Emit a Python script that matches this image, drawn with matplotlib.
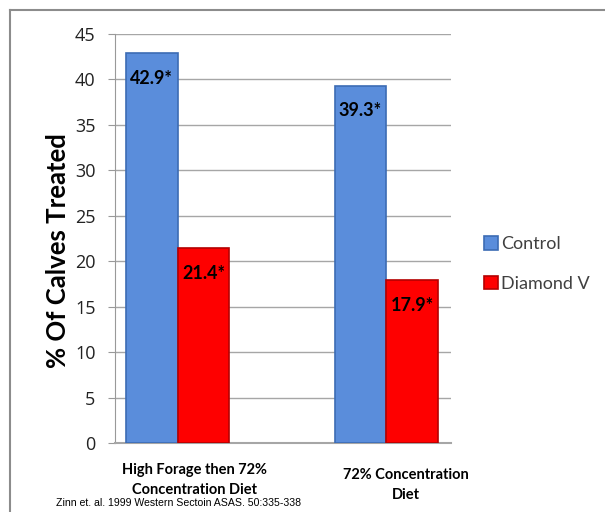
import matplotlib.pyplot as plt
import numpy as np
from matplotlib.lines import Line2D

categories = ["High Forage then 72%\nConcentration Diet", "72% Concentration\nDiet"]
control = [42.9, 39.3]
diamond = [21.4, 17.9]
series_names = ["Control", "Diamond V"]
yticks = [0, 5, 10, 15, 20, 25, 30, 35, 40, 45]
citation = "Zinn et. al. 1999 Western Sectoin ASAS. 50:335-338"

blue = "#5a8ddb"
blue_edge = "#3c6cb4"
red = "#fe0000"
red_edge = "#b40000"

fig = plt.figure(figsize=(6.05, 5.12), dpi=100)
ax = fig.add_axes([115 / 605, 1 - 443 / 512, 336 / 605, 409 / 512])

x = np.arange(len(categories))
w = 0.247
b1 = ax.bar(x - w / 2, control, w, color=blue, edgecolor=blue_edge, linewidth=1.2,
            label=series_names[0], zorder=3)
b2 = ax.bar(x + w / 2, diamond, w, color=red, edgecolor=red_edge, linewidth=1.2,
            label=series_names[1], zorder=3)

# value labels sit just inside the top of each bar
for bars, vals in [(b1, control), (b2, diamond)]:
    for rect, v in zip(bars, vals):
        ax.annotate(f"{v}*", (rect.get_x() + rect.get_width() / 2, v),
                    xytext=(0, -25), textcoords="offset pixels",
                    ha="center", va="center", fontsize=13, fontweight="bold",
                    family="Lato", color="black", zorder=4)

ax.set_xlim(-0.30, 1.31)
ax.set_ylim(0, 45)
ax.set_yticks(yticks)
ax.set_yticklabels([str(t) for t in yticks], fontsize=13, family="Open Sans", color="#222222")
ax.tick_params(axis="y", length=5, color="#999999", pad=9)
ax.set_xticks([])
ax.yaxis.grid(True, color="#a6a6a6", linewidth=1)
ax.set_axisbelow(True)
for s in ["top", "right"]:
    ax.spines[s].set_visible(False)
ax.spines["left"].set_color("#999999")
ax.spines["bottom"].set_color("#a6a6a6")
ax.spines["bottom"].set_linewidth(1.5)

fig.text(58 / 605, 1 - 251 / 512, "% Of Calves Treated", rotation=90,
         ha="center", va="center", fontsize=18.5, fontweight="bold", family="Lato")

# category labels (placed like the text boxes of the original)
fig.text(195 / 605, 1 - 480 / 512, categories[0], ha="center", va="center",
         fontsize=10.5, fontweight="bold", family="Lato", linespacing=1.5)
fig.text(406 / 605, 1 - 485 / 512, categories[1], ha="center", va="center",
         fontsize=10.5, fontweight="bold", family="Lato", linespacing=1.5)
fig.text(56 / 605, 1 - 503 / 512, citation, ha="left", va="center",
         fontsize=7.6, family="Liberation Sans")

leg = fig.legend(handles=[b1, b2], loc="center left",
                 bbox_to_anchor=(468 / 605, 1 - 264 / 512), frameon=False,
                 prop={"family": "Lato", "size": 13}, labelspacing=1.3,
                 handlelength=0.75, handleheight=0.75, handletextpad=0.2)
for t in leg.get_texts():
    t.set_color("#404040")

# outer frame
fig.add_artist(Line2D([10 / 605, 1], [1 - 10 / 512, 1 - 10 / 512],
                      transform=fig.transFigure, color="#8c8c8c", lw=1.5))
fig.add_artist(Line2D([10 / 605, 10 / 605], [0, 1 - 10 / 512],
                      transform=fig.transFigure, color="#8c8c8c", lw=1.5))

fig.savefig("out.png", dpi=100)
